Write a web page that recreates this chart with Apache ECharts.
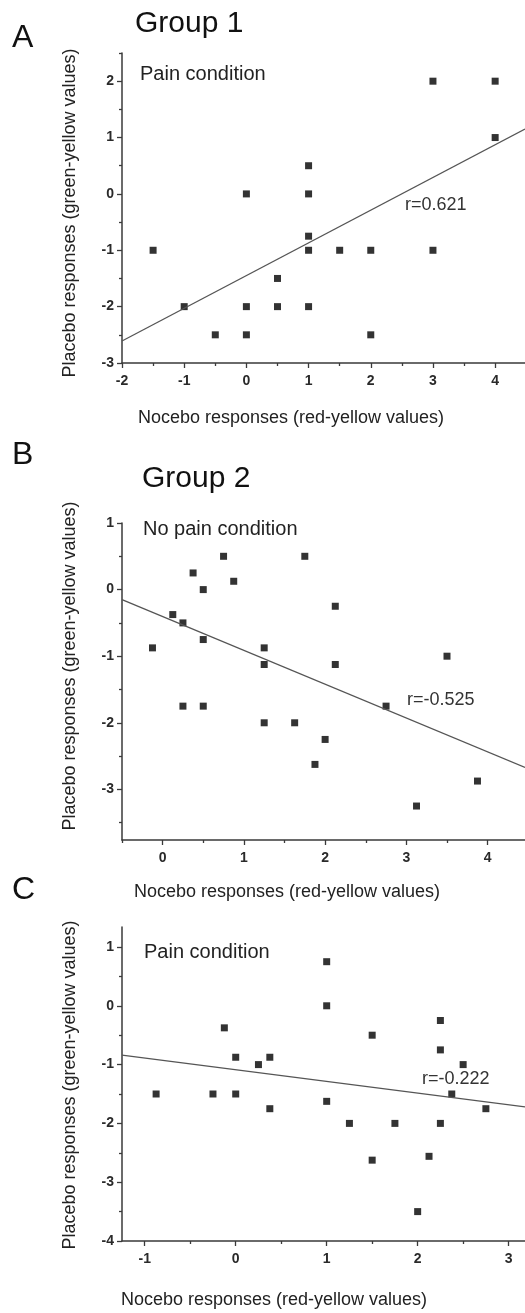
<!DOCTYPE html>
<html>
<head>
<meta charset="utf-8">
<script src="https://cdn.jsdelivr.net/npm/echarts@6/dist/echarts.min.js"></script>
<style>
html,body{margin:0;padding:0;background:#fff;}
#c{width:525px;height:1313px;}
</style>
</head>
<body>
<div id="c"></div>
<script>
// ---- Data ----
// Panel A: Group 1, pain condition
const aNocebo  = [-1.5, -1, -0.5, 0, 0, 0, 0.5, 0.5, 1, 1, 1, 1, 1, 1.5, 2, 2, 3, 3, 4, 4];
const aPlacebo = [-1, -2, -2.5, 0, -2, -2.5, -1.5, -2, 0.5, 0, -0.75, -1, -2, -1, -1, -2.5, 2, -1, 2, 1];
const aFitX = [-2, 4.48];
const aFitY = [-2.61, 1.15];
const aR = 'r=0.621';

// Panel B: Group 2, no pain condition
const bNocebo  = [0.75, 1.75, 0.375, 0.875, 0.5, 2.125, 0.125, 0.25, 0.5, -0.125, 1.25,
                  2.125, 1.25, 3.5, 0.25, 0.5, 2.75, 1.25, 1.625, 2, 1.875, 3.125, 3.875];
const bPlacebo = [0.5, 0.5, 0.25, 0.125, 0, -0.25, -0.375, -0.5, -0.75, -0.875, -0.875,
                  -1.125, -1.125, -1, -1.75, -1.75, -1.75, -2, -2, -2.25, -2.625, -3.25, -2.875];
const bFitX = [-0.5, 4.46];
const bFitY = [-0.15, -2.67];
const bR = 'r=-0.525';

// Panel C: Group 2, pain condition
const cNocebo  = [1, 1, -0.125, 1.5, 2.25, 2.25, 0, 0.375, 0.25, 2.5,
                  -0.875, -0.25, 0, 0.375, 1, 1.25, 1.75, 2.25, 1.5, 2.125, 2, 2.375, 2.75];
const cPlacebo = [0.75, 0, -0.375, -0.5, -0.25, -0.75, -0.875, -0.875, -1, -1,
                  -1.5, -1.5, -1.5, -1.75, -1.625, -2, -2, -2, -2.625, -2.56, -3.5, -1.5, -1.75];
const cFitX = [-1.25, 3.18];
const cFitY = [-0.84, -1.72];
const cR = 'r=-0.222';

// Tick labels
const aXTicks = [-2, -1, 0, 1, 2, 3, 4];
const aYTicks = [-3, -2, -1, 0, 1, 2];
const aXMinor = [-1.5, -0.5, 0.5, 1.5, 2.5, 3.5];
const aYMinor = [-2.5, -1.5, -0.5, 0.5, 1.5, 2.5];
const bXTicks = [0, 1, 2, 3, 4];
const bYTicks = [-3, -2, -1, 0, 1];
const bXMinor = [-0.5, 0.5, 1.5, 2.5, 3.5];
const bYMinor = [-3.5, -2.5, -1.5, -0.5, 0.5];
const cXTicks = [-1, 0, 1, 2, 3];
const cYTicks = [-4, -3, -2, -1, 0, 1];
const cXMinor = [-0.5, 0.5, 1.5, 2.5];
const cYMinor = [-3.5, -2.5, -1.5, -0.5, 0.5];

const xTitle = 'Nocebo responses (red-yellow values)';
const yTitle = 'Placebo responses (green-yellow values)';

// ---- Build chart ----
const FONT = '"Liberation Sans", Arial, sans-serif';
const axisColor = '#3a3a3a';
const zip = (xs, ys) => xs.map((x, i) => [x, ys[i]]);

function axisPair(kind, grid, min, max, major, minor) {
  const isX = kind === 'x';
  const pos = isX ? 'bottom' : 'left';
  return [
    {
      type: 'value', gridIndex: grid, min: min, max: max, position: pos,
      axisLine: { show: true, onZero: false, lineStyle: { color: axisColor, width: 1.5 } },
      axisTick: { show: true, customValues: major, length: 5, lineStyle: { color: axisColor, width: 1.3 } },
      axisLabel: { customValues: major, color: '#2a2a2a', fontSize: 14, fontWeight: 'bold',
                   fontFamily: FONT, margin: isX ? 11 : 8 },
      splitLine: { show: false }
    },
    {
      type: 'value', gridIndex: grid, min: min, max: max, position: pos,
      axisLine: { show: false, onZero: false },
      axisTick: { show: true, customValues: minor, length: 3, lineStyle: { color: axisColor, width: 1.3 } },
      axisLabel: { show: false },
      splitLine: { show: false }
    }
  ];
}

const xAxes = [].concat(
  axisPair('x', 0, -2, 4.48, aXTicks, aXMinor),
  axisPair('x', 1, -0.5, 4.46, bXTicks, bXMinor),
  axisPair('x', 2, -1.25, 3.18, cXTicks, cXMinor)
);
const yAxes = [].concat(
  axisPair('y', 0, -3, 2.5, aYTicks, aYMinor),
  axisPair('y', 1, -3.76, 1, bYTicks, bYMinor),
  axisPair('y', 2, -4, 1.34, cYTicks, cYMinor)
);

function panelSeries(idx, xs, ys, fx, fy) {
  return [
    {
      type: 'scatter', xAxisIndex: idx * 2, yAxisIndex: idx * 2,
      symbol: 'rect', symbolSize: 7, itemStyle: { color: '#000' },
      data: zip(xs, ys), silent: true
    },
    {
      type: 'line', xAxisIndex: idx * 2, yAxisIndex: idx * 2,
      showSymbol: false, symbol: 'none', silent: true,
      lineStyle: { color: '#555', width: 1.3 },
      data: zip(fx, fy)
    }
  ];
}

function txt(s, x, y, size, opts) {
  opts = opts || {};
  return {
    type: 'text', x: x, y: y, rotation: opts.rot || 0, silent: true,
    style: {
      text: s, fill: opts.fill || '#111',
      font: size + 'px ' + FONT,
      textAlign: opts.align || 'left', textVerticalAlign: 'middle'
    }
  };
}

const graphics = [
  txt('A', 12, 38, 32),
  txt('Group 1', 135, 24, 30),
  txt('Pain condition', 140, 74, 20, { fill: '#222' }),
  txt(aR, 405, 205, 18, { fill: '#333' }),
  txt(xTitle, 291, 418, 18, { align: 'center', fill: '#222' }),
  txt(yTitle, 70, 213, 18, { align: 'center', rot: Math.PI / 2, fill: '#222' }),

  txt('B', 12, 455, 32),
  txt('Group 2', 142, 479, 30),
  txt('No pain condition', 143, 529, 20, { fill: '#222' }),
  txt(bR, 407, 700, 18, { fill: '#333' }),
  txt(xTitle, 287, 892, 18, { align: 'center', fill: '#222' }),
  txt(yTitle, 70, 666, 18, { align: 'center', rot: Math.PI / 2, fill: '#222' }),

  txt('C', 12, 890, 32),
  txt('Pain condition', 144, 952, 20, { fill: '#222' }),
  txt(cR, 422, 1079, 18, { fill: '#333' }),
  txt(xTitle, 274, 1300, 18, { align: 'center', fill: '#222' }),
  txt(yTitle, 70, 1085, 18, { align: 'center', rot: Math.PI / 2, fill: '#222' })
];

const chart = echarts.init(document.getElementById('c'), null, { renderer: 'canvas' });
chart.setOption({
  backgroundColor: '#fff',
  animation: false,
  grid: [
    { left: 122, top: 53, width: 403, height: 310, outerBoundsMode: 'none', containLabel: false },
    { left: 122, top: 523, width: 403, height: 317, outerBoundsMode: 'none', containLabel: false },
    { left: 122, top: 927, width: 403, height: 314, outerBoundsMode: 'none', containLabel: false }
  ],
  xAxis: xAxes,
  yAxis: yAxes,
  series: [].concat(
    panelSeries(0, aNocebo, aPlacebo, aFitX, aFitY),
    panelSeries(1, bNocebo, bPlacebo, bFitX, bFitY),
    panelSeries(2, cNocebo, cPlacebo, cFitX, cFitY)
  ),
  graphic: graphics
});
</script>
</body>
</html>
